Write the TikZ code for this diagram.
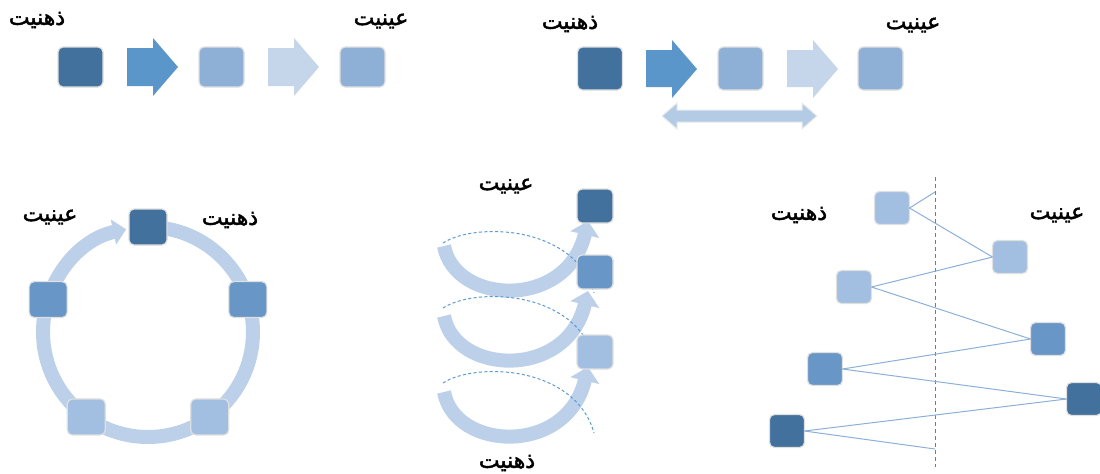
\documentclass[tikz,border=0pt]{standalone}
\usepackage{fontspec}
\TeXXeTstate=1
\newfontfamily\arabicfont[Script=Arabic,FakeBold=2]{DejaVu Sans}
\usetikzlibrary{arrows.meta,calc}
\definecolor{sqdark}{RGB}{65,113,156}
\definecolor{sqmed}{RGB}{104,150,199}
\definecolor{sqlight}{RGB}{143,176,214}
\definecolor{sqpale}{RGB}{162,190,225}
\definecolor{arrA}{RGB}{91,150,202}
\definecolor{arrB}{RGB}{197,213,234}
\definecolor{ringc}{RGB}{188,208,233}
\definecolor{dblc}{RGB}{180,203,230}
\definecolor{lnkc}{RGB}{140,176,218}
\definecolor{dashc}{RGB}{91,155,213}
\tikzset{
  sq/.style={rectangle, rounded corners=2.5pt, draw=black!12, line width=0.6pt, inner sep=0pt, outer sep=0pt},
  lbl/.style={font=\arabicfont\fontsize{11}{13}\selectfont, inner sep=0pt},
  blockA/.style={fill=arrA},
  blockB/.style={fill=arrB},
  curv/.style={draw=ringc, line width=7pt, -{Triangle[width=14.5pt,length=7pt]}},
  dsh/.style={draw=dashc, line width=0.5pt, dash pattern=on 1.5pt off 1.2pt},
  vline/.style={draw=dashc!85!black, line width=0.5pt, dash pattern=on 2pt off 1.5pt},
  lnk/.style={draw=lnkc, line width=0.5pt}
}
\begin{document}
\begin{tikzpicture}[x=0.5pt,y=-0.5pt]
\useasboundingbox (0,0) rectangle (1100,473);
\fill[white] (0,0) rectangle (1100,473);

% ---------- Panel 1 ----------
\node[lbl] (t1a) at (37,20) {\beginR ذهنیت\endR};
\node[lbl] (t1b) at (381,21) {\beginR عینیت\endR};
\node[sq, fill=sqdark, minimum width=22.5pt, minimum height=20pt] (a1) at (80.5,67) {};
\node[sq, fill=sqlight, minimum width=22.5pt, minimum height=20pt] (a2) at (221.5,67) {};
\node[sq, fill=sqlight, minimum width=22.5pt, minimum height=20pt] (a3) at (362.5,67) {};
\fill[blockA] (127,48) -- (153,48) -- (153,38) -- (178,67) -- (153,96) -- (153,86) -- (127,86) -- cycle;
\fill[blockB] (268,48) -- (294,48) -- (294,38) -- (319,67) -- (294,96) -- (294,86) -- (268,86) -- cycle;

% ---------- Panel 2 ----------
\node[lbl] (t2a) at (570,24) {\beginR ذهنیت\endR};
\node[lbl] (t2b) at (913,25) {\beginR عینیت\endR};
\node[sq, fill=sqdark, minimum width=22.5pt, minimum height=21.5pt] (b1) at (600,68.5) {};
\node[sq, fill=sqlight, minimum width=22.5pt, minimum height=21.5pt] (b2) at (740.5,68.5) {};
\node[sq, fill=sqlight, minimum width=22.5pt, minimum height=21.5pt] (b3) at (880.5,68.5) {};
\fill[blockA] (646,50) -- (672,50) -- (672,40) -- (697,69) -- (672,98) -- (672,87) -- (646,87) -- cycle;
\fill[blockB] (787,50) -- (813,50) -- (813,40) -- (838,69) -- (813,98) -- (813,87) -- (787,87) -- cycle;
\filldraw[fill=dblc, draw=black!8, line width=0.5pt] (662,116) -- (677,103) -- (677,110) -- (802,110) -- (802,103) -- (817,116) -- (802,129) -- (802,122) -- (677,122) -- (677,129) -- cycle;

% ---------- Panel 3 (cycle) ----------
\coordinate (cc) at (148,332);
\draw[draw=ringc, line width=7pt, -{Triangle[width=12.5pt,length=6.5pt]}] ($(cc)+(-90:105)$) arc[start angle=-90, end angle=258, radius=105];
\node[sq, fill=sqdark, minimum width=19pt, minimum height=18pt] (c1) at ($(cc)+(-90:105)$) {};
\node[sq, fill=sqmed, minimum width=19pt, minimum height=18pt] (c2) at ($(cc)+(-18:105)$) {};
\node[sq, fill=sqpale, minimum width=19pt, minimum height=18pt] (c3) at ($(cc)+(54:105)$) {};
\node[sq, fill=sqpale, minimum width=19pt, minimum height=18pt] (c4) at ($(cc)+(126:105)$) {};
\node[sq, fill=sqmed, minimum width=19pt, minimum height=18pt] (c5) at ($(cc)+(198:105)$) {};
\node[lbl] (t3a) at (50,217) {\beginR عینیت\endR};
\node[lbl] (t3b) at (230,220) {\beginR ذهنیت\endR};

% ---------- Panel 4 (curved arrows) ----------
\foreach \dy in {0,70,146}
  \draw[curv] (444,246+\dy) .. controls (455,305+\dy) and (567,310+\dy) .. (588,221+\dy);
\foreach \dy in {0,65,140}
  \draw[dsh] (443,243+\dy) .. controls (475,222+\dy) and (575,225+\dy) .. (594,293+\dy);
\node[sq, fill=sqdark, minimum width=18pt, minimum height=17pt] (d1) at (595,206) {};
\node[sq, fill=sqmed, minimum width=18pt, minimum height=17pt] (d2) at (595,272) {};
\node[sq, fill=sqpale, minimum width=18pt, minimum height=17pt] (d3) at (595,352) {};
\node[lbl] (t4a) at (506,186) {\beginR عینیت\endR};
\node[lbl] (t4b) at (507,463) {\beginR ذهنیت\endR};

% ---------- Panel 5 (zigzag) ----------
\draw[vline] (935,177) -- (935,467);
\coordinate (vt) at (935,192);
\coordinate (vb) at (935,449);
\node[sq, fill=sqpale, minimum width=17.5pt, minimum height=16.5pt] (e1) at (892,208) {};
\node[sq, fill=sqpale, minimum width=17.5pt, minimum height=16.5pt] (e2) at (1010,257) {};
\node[sq, fill=sqpale, minimum width=17.5pt, minimum height=16.5pt] (e3) at (854,287) {};
\node[sq, fill=sqmed, minimum width=17.5pt, minimum height=16.5pt] (e4) at (1048,339) {};
\node[sq, fill=sqmed, minimum width=17.5pt, minimum height=16.5pt] (e5) at (825,369) {};
\node[sq, fill=sqdark, minimum width=17.5pt, minimum height=16.5pt] (e6) at (1084,399) {};
\node[sq, fill=sqdark, minimum width=17.5pt, minimum height=16.5pt] (e7) at (787,431) {};
\draw[lnk] (e1.east) -- (vt);
\draw[lnk] (e1.east) -- (e2.west);
\draw[lnk] (e2.west) -- (e3.east);
\draw[lnk] (e3.east) -- (e4.west);
\draw[lnk] (e4.west) -- (e5.east);
\draw[lnk] (e5.east) -- (e6.west);
\draw[lnk] (e6.west) -- (e7.east);
\draw[lnk] (e7.east) -- (vb);
\node[lbl] (t5a) at (799,215) {\beginR ذهنیت\endR};
\node[lbl] (t5b) at (1057,215) {\beginR عینیت\endR};
\end{tikzpicture}
\end{document}
